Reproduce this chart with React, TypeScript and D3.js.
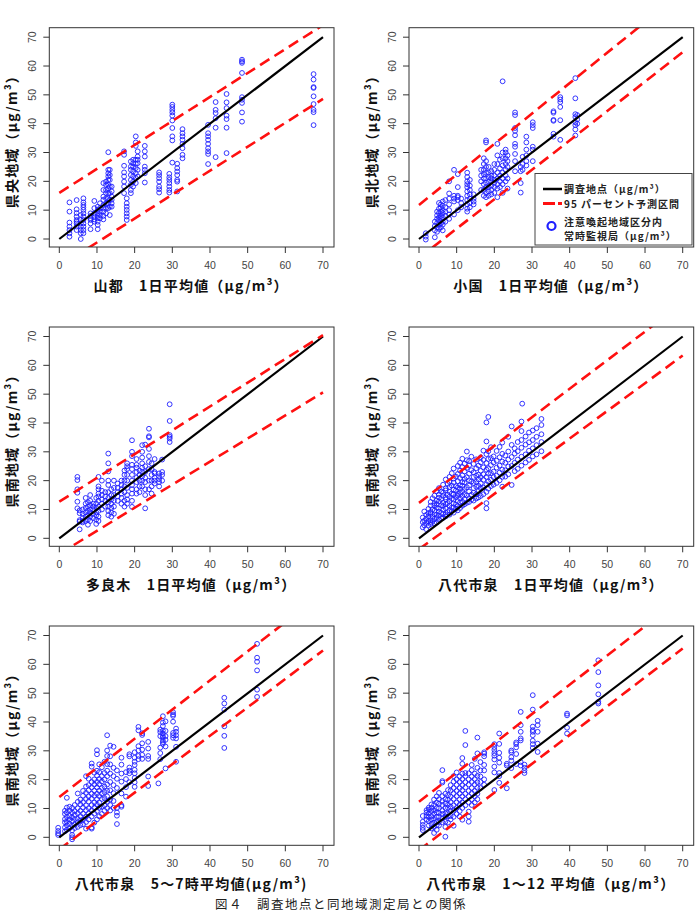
import React from "react";
import * as d3 from "d3";

// each series: [x, [y, y, ...]] columns of daily values (μg/m³)
const yamaga: [number, number[]][] = [
  [2.7, [12.7, 9.5, 5.7, 4.3, 3.1, 2, 0.8]],
  [4.6, [13.5, 10.3, 9, 7.8, 6.6, 6, 5.4, 4.3, 3.1]],
  [5.7, [0, 2, 3.1, 4.3, 5.4, 6.6, 8.3]],
  [6.4, [14.1, 12.7, 11.8, 11, 10.1, 8.9, 7.8, 6.6, 5.4, 4.3, 3.1, 2]],
  [8.3, [8.9, 8, 7.2, 6.6, 5.4, 3.4]],
  [9.3, [13.2, 10.7, 8.9, 7.8, 6.8, 6.0]],
  [10.2, [11.2, 10.1, 8.9, 8, 7.2, 6, 4.9, 3.4]],
  [10.8, [12.4, 10.7, 9.5, 8.3, 7.2]],
  [11.7, [19.4, 17, 14.7, 13.6, 11.8, 10.7, 9.5, 8, 6.8]],
  [12.4, [19.9, 18.8, 17, 15.9, 14.1, 12.2, 10.7, 8.9]],
  [13, [30.1, 24, 22.8, 21.7, 20.5, 18.8, 17.6, 15.9, 14.1, 12.4, 10.7]],
  [13.4, [24, 22.2, 20.5, 18.2, 15.9, 13.6, 11.2, 8.3]],
  [13.9, [18.2, 16.5, 14.7, 13.6, 12.4, 11.2]],
  [17.2, [30.4, 29.2, 25.4, 23.1, 21.7, 19.9, 18.2, 15.9]],
  [17.9, [14.1, 12.4, 11.2, 10.1, 8.9, 7.8, 6.6]],
  [19, [26.9, 25.1, 24, 22.2, 20.5, 18.8, 17, 15.9]],
  [19.6, [27.5, 26.3, 25.1, 23.4, 21.7, 19.9, 18.2]],
  [20.3, [35.6, 33.5, 32.3, 27.5, 26.1, 24.6, 22.8, 21.1, 19.4]],
  [20.8, [30.4, 28.6, 27.5, 26.3, 24, 21.7]],
  [22.7, [32.3, 30.4, 28.6, 25.1, 24, 22.8, 19.6]],
  [26.5, [23.1, 22.2, 21.1, 19.9, 18.2, 17.3, 16.1]],
  [29.2, [22.6, 21.4, 20.5, 19.4, 18.2, 17, 16.1]],
  [30, [46.6, 45.8, 44.8, 43.9, 42.8, 41.1, 38.5, 35.6, 34.2, 26.5]],
  [31.3, [26.1, 24.6, 23.4, 22.2, 20.5, 19.9, 16.5]],
  [32.7, [38.1, 36.7, 35.6, 34.4, 33, 31.5, 29.2, 28]],
  [39.5, [39.6, 36.7, 35.6, 34.4, 33, 31.5, 30.4, 29.5, 26]],
  [41.5, [47.5, 44.8, 43.7, 41.9, 38.6, 28.4]],
  [44.4, [50.3, 47.4, 45.4, 42.8, 41.6, 38.6, 29.8]],
  [48.5, [62.2, 61.6, 61.1, 57.6, 49.2, 48.3, 47.2, 43.9, 40.7]],
  [67.5, [57.2, 55.3, 52.7, 52.4, 49.5, 46.8, 44.8, 44, 39.5]],
];

const oguni: [number, number[]][] = [
  [1.8, [2, 0.8, -0.2]],
  [4.2, [0.6, 3, 4.5, 6]],
  [4.8, [2.5, 4, 5.5, 7, 8.2, 9.5]],
  [5.3, [3.5, 5, 6.5, 7.5, 9, 10.5, 12.5]],
  [5.8, [4, 5.5, 7, 8, 9.5, 11, 12]],
  [6.3, [3, 5, 6, 7.5, 9, 10, 11.5, 13]],
  [7, [6, 8, 9.5, 11, 13.5]],
  [8, [7, 8.5, 10, 12, 14, 15.8, 20]],
  [9.3, [8.5, 13, 14, 15, 24]],
  [10.3, [10, 13.5, 14.5, 15, 18, 22.5]],
  [11.2, [11, 12.5, 14]],
  [12.8, [9.5, 10.5, 12, 13.5, 15, 16.5, 18, 19, 20, 21.5, 23]],
  [13.5, [11, 12.5, 14, 15.5, 17, 18.5, 20.5]],
  [14.5, [12, 13, 14, 15.5]],
  [16.5, [17, 20, 22, 24]],
  [17.2, [15, 17, 19, 21, 22.5, 24, 26, 28]],
  [17.8, [14.5, 16, 18, 19.5, 21, 23, 25, 27, 33.5, 34.2]],
  [18.5, [15, 16.5, 18, 20, 21.5, 23, 25]],
  [19.2, [15.5, 17, 18.5, 20, 21, 22, 23.5]],
  [20, [16, 18, 19.5, 20.5, 22, 24, 26]],
  [20.8, [14.5, 17.5, 19, 21, 23, 26, 29, 33]],
  [21.5, [18, 20, 22, 24.5, 27.5]],
  [22.2, [16, 19, 21, 23, 25.5, 28, 30, 54.7]],
  [23, [20, 22, 24, 26, 28, 30, 31]],
  [23.5, [17.5, 21, 25, 27, 29]],
  [25.5, [23.5, 27, 29.5, 32, 33, 36, 37.5, 38.5, 43, 43.9]],
  [27, [16.1, 19.4, 23.5, 25]],
  [27.5, [24, 26, 28.5]],
  [28.5, [25.5, 27, 29, 31, 33.5, 35.5]],
  [30.2, [27, 31, 32, 38.5, 39.5, 40.5]],
  [35.7, [35.5, 36.5, 41, 41.3, 43.8, 44.3]],
  [37.5, [34.4, 41.2, 45.8, 47.5, 48.4, 49.2]],
  [41.5, [35.9, 38, 39.5, 40.5, 42.3, 43.3, 48.8, 55.8]],
  [42, [40, 41.5, 43]],
];

const taragi: [number, number[]][] = [
  [4.8, [21.3, 20.2, 17, 15.8, 12.7, 10.4]],
  [5.4, [3.1, 5.8, 6.3, 8.7, 9.7]],
  [6.2, [5.5, 6, 7, 8.5, 10]],
  [7, [6, 7.5, 9, 10.5, 12, 14]],
  [7.6, [4.7, 6.5, 8, 9.5, 11, 12.5]],
  [8.2, [6, 7.5, 9, 10, 11.5, 13, 15]],
  [9, [7, 8.5, 10, 11, 12]],
  [9.8, [5, 6.5, 8, 9, 10.5, 12, 14]],
  [10.4, [6, 7.5, 9.5, 11, 13, 14.5, 15.5, 17, 18, 21.3]],
  [11.3, [10, 12, 13.5, 15, 16.5, 20]],
  [12.2, [11, 13, 14.5, 16]],
  [13, [8, 9.5, 11, 12.5, 14, 16, 18.5, 20, 23.2, 26, 29.4]],
  [13.8, [7.5, 9, 10.5, 12, 13.5, 15, 17]],
  [14.5, [8.5, 11, 13, 15, 17.5, 20]],
  [15.5, [13, 14.5, 16, 17.5, 19]],
  [16.5, [12, 14, 15.5, 17, 18.5, 20]],
  [17.3, [11, 13, 16, 18, 20, 22, 23.5]],
  [18, [12, 13.5, 15, 17.5, 20, 22, 24, 25, 26]],
  [19.3, [10.9, 13, 15.5, 17, 18.5, 20, 22, 24, 25.5, 28.5, 30, 34]],
  [20.5, [15.5, 17, 19.5, 21, 23, 24.5, 25.5, 27.5]],
  [21.3, [16, 18, 20, 22, 23.5]],
  [22, [18, 20, 21.5, 23, 24.5, 26, 28, 30, 32.3]],
  [22.8, [10.4, 15, 17, 19.5, 21, 23, 25, 32.5]],
  [23.8, [17, 20, 24, 26.5, 28.5, 31, 35, 35.4, 38]],
  [24.5, [15.5, 18, 20, 22, 24, 26]],
  [25.3, [19, 20, 21, 22.5, 23, 27.5]],
  [26.5, [18, 19.5, 20.5, 21.5, 22.5]],
  [27.3, [20, 22, 23, 27.3]],
  [29.3, [33.4, 34.6, 35.2, 35.8, 40.7, 46.5]],
];

const izumiDaily: [number, number[]][] = [
  [1, [3.8, 5.6, 7.2]],
  [1.4, [4.5, 6.1, 9.3]],
  [1.9, [3.2, 5.3, 6.8, 8.1]],
  [2.5, [4.4, 5.9, 7.6, 8.7, 10.2]],
  [3.1, [4.9, 5.4, 6.3, 8.4, 9.1, 11.3, 12.6]],
  [3.6, [6.0, 7.4, 10.1, 13.9]],
  [4.1, [5.2, 6.7, 8.3, 9.6, 11.4, 12.2, 14.8]],
  [4.7, [5.5, 7.3, 8.2, 10.6, 11.9, 13.1, 16.3]],
  [5.3, [6.4, 7.9, 9.2, 10.3, 12.8, 14.1, 15.2, 17.4]],
  [5.9, [6.9, 8.8, 11.5, 13.6, 16.2]],
  [6.4, [7.1, 8.4, 9.9, 11.2, 12.3, 14.7, 15.8, 18.6]],
  [7.1, [7.6, 8.3, 10.4, 11.8, 13.5, 14.2, 16.6, 17.3, 20.4]],
  [7.6, [9.1, 12.2, 15.1, 18.9]],
  [8.1, [8.2, 9.7, 11.3, 12.9, 14.4, 16.1, 17.8, 19.6, 21.3]],
  [8.7, [9.4, 10.6, 13.7, 15.5, 18.3, 22.6]],
  [9.2, [8.9, 10.8, 12.1, 13.4, 15.2, 16.9, 19.3, 20.7, 24.2]],
  [9.8, [10.2, 11.7, 14.3, 16.6, 18.1, 21.4]],
  [10.3, [9.7, 11.1, 12.9, 14.8, 15.4, 17.6, 19.8, 22.3, 25.1]],
  [10.9, [10.5, 12.4, 13.8, 15.7, 17.2, 18.4, 20.9, 23.5, 26.2]],
  [11.5, [11.3, 12.7, 14.6, 16.3, 18.2, 19.5, 21.8, 24.7, 27.6]],
  [12.1, [11.8, 13.6, 15.3, 17.1, 19.4, 20.6, 23.2, 25.9]],
  [12.7, [12.3, 14.9, 17.7, 21.2, 24.4, 27.1, 30.1]],
  [13.3, [12.6, 13.9, 16.2, 18.3, 20.1, 22.4, 25.3, 26.8]],
  [13.9, [13.4, 15.1, 19.7, 23.6, 28.3]],
  [14.5, [13.1, 15.8, 17.4, 19.2, 21.3, 22.9, 25.8]],
  [15.2, [13.8, 15.3, 17.9, 19.6, 21.7, 24.3, 27.4]],
  [15.8, [14.2, 16.4, 18.2, 20.4, 22.1, 25.2]],
  [16.4, [14.7, 17.3, 19.1, 21.2, 23.4, 26.3, 28.1]],
  [17.1, [15.3, 17.6, 20.3, 22.2, 24.6, 27.2, 30.4]],
  [17.9, [10.4, 12.2, 16.1, 18.7, 21.3, 23.8, 26.1, 29.2, 33.6, 40.2]],
  [18.4, [17.2, 19.7, 22.4, 24.3, 27.5, 30.2, 42.1]],
  [19.1, [18.1, 20.3, 22.6, 25.4, 27.8, 31.6]],
  [19.8, [18.6, 21.2, 23.1, 26.3, 28.4]],
  [20.6, [19.2, 21.7, 24.5, 26.9, 30.3]],
  [21.4, [20.1, 22.8, 25.2, 28.1, 31.7]],
  [22.1, [17.9, 21.3, 23.8, 26.6, 29.3, 33.2]],
  [22.9, [21.4, 23.6, 26.2, 28.7]],
  [23.7, [22.2, 24.9, 27.3, 30.1, 35.2]],
  [24.6, [18.5, 25.1, 28.2, 32.4, 38.8]],
  [25.4, [23.3, 26.2, 29.4, 31.2]],
  [26.2, [24.1, 27.3, 30.2, 33.4]],
  [27.2, [25.2, 28.3, 31.4, 34.1, 37.2, 40.5]],
  [27.4, [46.7]],
  [28.3, [26.3, 29.1, 32.5, 35.3]],
  [29.2, [27.2, 30.4, 33.3, 36.7]],
  [30.2, [28.4, 31.2, 34.1, 37.4]],
  [31.2, [29.1, 32.3, 35.2, 38.2]],
  [32.5, [30.2, 33.4, 36.1, 39.3, 41.4]],
];

const izumiMorning: [number, number[]][] = [
  [-0.3, [0.8, 1.4, 2.2, 3.3]],
  [1.5, [2.1, 3.4, 5.2, 6.3, 8.1, 9.2]],
  [2, [13.7, 10.3, 8.6, 7.1, 5.4, 4.2, 2.6]],
  [2.7, [3.1, 4.7, 6.2, 7.4, 9.3, 10.6]],
  [3.4, [-0.7, 0, 0.8, 2.4, 4.1, 5.7, 6.9, 8.6, 10.2]],
  [4.1, [3.2, 4.4, 6.3, 7.8, 9.1, 11.2]],
  [4.9, [3.6, 5.2, 6.4, 8.3, 10.1, 12.3, 15.2]],
  [5.6, [4.2, 5.8, 7.3, 9.2, 11.4, 13.1]],
  [6.3, [4.5, 6.1, 8.2, 10.3, 12.2, 14.4, 16.1]],
  [7.1, [3, 5.3, 7.2, 9.4, 11.1, 13.3, 15.4, 17.6, 21.2]],
  [7.8, [6.2, 8.3, 10.1, 12.4, 14.2, 16.3, 18.1, 20.3]],
  [8.6, [3, 3.4, 7.2, 9.3, 11.2, 13.4, 15.1, 17.3, 19.2, 24.5, 25.6]],
  [9.3, [5.1, 8.2, 10.3, 12.1, 14.4, 16.2, 18.3, 20.1, 22.4]],
  [10, [6.2, 9.1, 11.3, 13.2, 15.1, 17.3, 19.2, 21.4, 23.1, 28.8, 30.2]],
  [10.6, [7.3, 10.2, 12.1, 14.3, 16.2, 18.4, 20.2, 22.6, 25.3]],
  [11.3, [8.1, 10.6, 13.3, 15.2, 17.1, 19.4, 21.2, 24.3]],
  [12, [9.2, 11.1, 13.6, 15.7, 17.6, 20.1, 22.3, 26.2]],
  [12.7, [10.1, 12.3, 14.2, 16.1, 18.3, 21.2, 23.1, 25.4, 28.2, 30.1, 35.4]],
  [13.5, [9.3, 11.2, 13.1, 16.3, 19.2, 22.1, 25.3, 28.1, 31.8]],
  [14.4, [10.2, 12.6, 15.3, 18.1, 21.2, 24.1, 31.4]],
  [15.3, [4.6, 7.5, 8.6, 10.2, 17.1, 20.3, 23.2]],
  [16.5, [10.6, 11.1, 15.2, 19.3, 22.1, 25.2, 27.6]],
  [17.7, [14.1, 17.4, 20.2, 22.6]],
  [18.6, [19.1, 22.2, 23.1, 24.2, 28.1, 28.8]],
  [20, [17.5, 19.1, 20.6, 22.2, 23.4, 25.1, 26.2, 27.6, 29.5]],
  [21, [27.1, 28.2, 30.1, 31.6, 37.1, 38.3]],
  [22, [27.2, 28.6, 30.4, 32.6, 35.5, 36.1]],
  [23.6, [17.8, 21.1, 27.2, 28.2, 30.8, 33.1]],
  [26.3, [18.7]],
  [26.8, [27.1, 29.2, 31.1, 35.1, 36.5, 37.3]],
  [27.5, [32.4, 33, 33.6, 34.6, 35.1, 36, 37, 38.6, 39.8, 42]],
  [28.2, [23.9, 31.5, 33.8, 35.1, 36.9, 40.2]],
  [30.2, [34.5, 35.4, 36.2, 40.1, 42.1, 42.6, 43.4]],
  [31, [26.2, 31.4, 34.3, 35.4, 36.6, 37.7]],
  [43.8, [31, 35.2, 38.5, 44.3, 46.4, 48.4]],
  [52.5, [48.7, 51.2, 57.9, 60.9, 62.3, 67.1]],
];

const izumiNoon: [number, number[]][] = [
  [1, [2.5, 3.3, 4.3, 5.4, 7.4]],
  [2, [6.1, 7.4, 8.6, 9.4]],
  [2.6, [4.1, 5.6, 7.1, 8.2, 9.6, 10.3]],
  [3.3, [3.1, 4.6, 6.2, 7.3, 9.1, 10.2, 11.4]],
  [4, [1.5, 3.6, 5.1, 6.4, 8.2, 9.3, 11.2, 13.1]],
  [4.7, [2.6, 4.2, 5.4, 7.1, 8.6, 10.2, 12.1, 14.2]],
  [5.3, [4.1, 5.3, 7.2, 8.4, 10.1, 11.6, 13.2, 15.4]],
  [6.2, [5.2, 6.6, 8.1, 9.3, 11.2, 12.6, 14.3, 19, 19.5, 23.3]],
  [7, [0.2, 3.6, 5.4, 7.2, 8.3, 10.1, 11.7, 13.2, 15.1]],
  [7.7, [5.1, 7.2, 8.4, 10.2, 11.3, 13.1, 14.6, 16.4]],
  [8.4, [6.2, 7.4, 9.1, 10.6, 12.2, 14.1, 16.2, 18.1]],
  [9.2, [4, 7.1, 9.2, 11.1, 13.3, 15.2, 17.1, 19.3, 21.2]],
  [10, [8.1, 10.2, 12.1, 14.3, 16.1, 18.2, 20.1, 22.5]],
  [10.8, [7.2, 9.1, 11.3, 13.1, 15.2, 17.1, 19.2, 21.1]],
  [11.5, [6.1, 10.2, 12.1, 14.2, 16.3, 18.1, 20.2, 22.1, 25.5, 27.5]],
  [12.3, [11.1, 13.2, 15.1, 17.3, 19.1, 21.2, 22.3, 32, 36.9]],
  [13.2, [5.4, 7.2, 8.9, 12.1, 14.2, 16.1, 18.3, 20.1, 22.2]],
  [14, [11.2, 13.1, 15.3, 17.1, 19.2, 21.1, 23.3, 25.1]],
  [14.8, [12.1, 14.2, 16.1, 18.3, 20.2, 22.1, 27.2]],
  [15.5, [13.2, 15.1, 17.2, 19.1, 21.3, 24.1, 29.1, 34.6]],
  [16.3, [17.1, 19.2, 21.1, 23.2, 26.1]],
  [17.3, [18.2, 20.1, 23.2, 25.1, 28.1, 29, 29.5]],
  [20, [16.4, 22.5, 24.5, 27, 28.3, 29.2, 30.3, 31.3, 32.3]],
  [21.3, [18.9, 21.2, 22.3, 25.9, 27.6, 29.3, 32.4, 36]],
  [23.3, [17, 24.9, 25.5]],
  [24.5, [24, 26.6, 27.8, 29.5, 30.1]],
  [25.8, [25.4, 28.9, 31.2, 32.3, 32.9]],
  [27, [24.9, 26.1, 33.6, 34.3, 36.6, 38.9, 43.5]],
  [28, [22.3, 23.2, 24.1, 25.2]],
  [30.2, [31, 32.3, 33.5, 35.4, 36.6, 37.2, 38.4, 44.3, 49.3]],
  [31.5, [29.6, 32.5, 36.6, 38.9, 40.4]],
  [39.3, [36, 38, 42.3, 42.9]],
  [47.6, [46.4, 47, 49.6, 52.7, 57.3, 61.4]],
];

// survey-site line and 95% prediction interval, in data units
const siteLine: [number, number][] = [[0, 0], [70, 70]];
const upperBands: [number, number][][] = [
  [[0, 16], [70, 74.2]],
  [[0, 11.8], [70, 85.8]],
  [[0, 12.7], [70, 70.5]],
  [[0, 12.3], [70, 81.6]],
  [[0, 14], [70, 84.7]],
  [[0, 12.3], [70, 83.4]],
];
const lowerBands: [number, number][][] = [
  [[0, -9.5], [70, 48.6]],
  [[0, -6.6], [70, 64.8]],
  [[0, -5.4], [70, 50.6]],
  [[0, -3.8], [70, 63.4]],
  [[0, -4.2], [70, 64.8]],
  [[0, -4.5], [70, 65.5]],
];

const xTitles = [
  "山都　1日平均値（μg/m³）",
  "小国　1日平均値（μg/m³）",
  "多良木　1日平均値（μg/m³）",
  "八代市泉　1日平均値（μg/m³）",
  "八代市泉　5～7時平均値(μg/m³)",
  "八代市泉　1～12 平均値（μg/m³）",
];
const yTitles = [
  "県央地域（μg/m³）",
  "県北地域（μg/m³）",
  "県南地域（μg/m³）",
  "県南地域（μg/m³）",
  "県南地域（μg/m³）",
  "県南地域（μg/m³）",
];
const seriesList = [yamaga, oguni, taragi, izumiDaily, izumiMorning, izumiNoon];
const ticks = [0, 10, 20, 30, 40, 50, 60, 70];

const colX0 = [59.3, 419];
const rowY0 = [239, 538.3, 837.3];
const JP = "'Noto Sans CJK JP', sans-serif";
const SANS = "'Liberation Sans', Arial, sans-serif";
const BLUE = "#1f1fff";
const RED = "#ff1010";

function Panel({ i }: { i: number }) {
  const x0 = colX0[i % 2];
  const y0 = rowY0[Math.floor(i / 2)];
  const x = d3.scaleLinear().domain([0, 70]).range([x0, x0 + 263.7]);
  const y = d3.scaleLinear().domain([0, 70]).range([y0, y0 - 201.8]);
  const left = x(0) - 10;
  const right = x(70) + 11;
  const top = y(70) - 9.5;
  const bottom = y(0) + 8;
  const line = d3
    .line<[number, number]>()
    .x((d) => x(d[0]))
    .y((d) => y(d[1]));
  const clipId = `clip${i}`;
  const pts = seriesList[i].flatMap(([px, ys]) => ys.map((py) => [px, py]));
  const cx = (x(0) + x(70)) / 2;
  const cy = (y(0) + y(70)) / 2;

  return (
    <g>
      <defs>
        <clipPath id={clipId}>
          <rect x={left} y={top} width={right - left} height={bottom - top} />
        </clipPath>
      </defs>
      <g clipPath={`url(#${clipId})`}>
        {pts.map((p, k) => (
          <circle
            key={k}
            cx={x(p[0])}
            cy={y(p[1])}
            r={2.4}
            fill="none"
            stroke={BLUE}
            strokeWidth={0.9}
          />
        ))}
        <path d={line(siteLine) || ""} stroke="#000" strokeWidth={2.2} fill="none" />
        {[upperBands[i], lowerBands[i]].map((b, k) => (
          <path
            key={k}
            d={line(b) || ""}
            stroke={RED}
            strokeWidth={2.6}
            strokeDasharray="11 6"
            fill="none"
          />
        ))}
      </g>
      <rect
        x={left}
        y={top}
        width={right - left}
        height={bottom - top}
        fill="none"
        stroke="#333"
        strokeWidth={1}
      />
      {ticks.map((t) => (
        <g key={t}>
          <line x1={x(t)} x2={x(t)} y1={bottom} y2={bottom + 6} stroke="#333" />
          <text x={x(t)} y={bottom + 22} textAnchor="middle" fontSize={10.5} fill="#444" fontFamily={SANS}>
            {t}
          </text>
          <line x1={left} x2={left - 6} y1={y(t)} y2={y(t)} stroke="#333" />
          <text
            transform={`translate(${left - 13},${y(t)}) rotate(-90)`}
            textAnchor="middle"
            fontSize={10.5}
            fill="#444"
            fontFamily={SANS}
          >
            {t}
          </text>
        </g>
      ))}
      <text
        x={cx}
        y={bottom + 44}
        textAnchor="middle"
        fontSize={14}
        fontWeight="bold"
        letterSpacing={1.2}
        fill="#111"
        fontFamily={JP}
      >
        {xTitles[i]}
      </text>
      <text
        transform={`translate(${left - 32},${cy}) rotate(-90)`}
        textAnchor="middle"
        fontSize={14}
        fontWeight="bold"
        letterSpacing={1.2}
        fill="#111"
        fontFamily={JP}
      >
        {yTitles[i]}
      </text>
    </g>
  );
}

function Legend() {
  return (
    <g fontFamily={JP} fontSize={10} fontWeight="bold" fill="#222" letterSpacing={1}>
      <rect x={535} y={173.5} width={157} height={71.5} fill="#fff" stroke="#444" strokeWidth={1} />
      <line x1={543} x2={562} y1={189} y2={189} stroke="#000" strokeWidth={2.5} />
      <text x={564} y={193}>調査地点（μg/m³）</text>
      <line x1={543} x2={555} y1={203.5} y2={203.5} stroke={RED} strokeWidth={3} />
      <line x1={558} x2={562} y1={203.5} y2={203.5} stroke={RED} strokeWidth={3} />
      <text x={564} y={207.5}>95 パーセント予測区間</text>
      <circle cx={551.5} cy={226} r={4} fill="none" stroke={BLUE} strokeWidth={2.2} />
      <text x={564} y={225.5}>注意喚起地域区分内</text>
      <text x={564} y={240}>常時監視局（μg/m³）</text>
    </g>
  );
}

export default function App() {
  return (
    <svg width={700} height={912} style={{ position: "absolute", left: 0, top: 0, background: "#fff" }}>
      <rect width={700} height={912} fill="#fff" />
      {seriesList.map((_, i) => (
        <Panel key={i} i={i} />
      ))}
      <Legend />
      <text x={215} y={909} fontSize={12.5} letterSpacing={1.5} fill="#222" fontFamily={JP}>
        図４　調査地点と同地域測定局との関係
      </text>
    </svg>
  );
}
